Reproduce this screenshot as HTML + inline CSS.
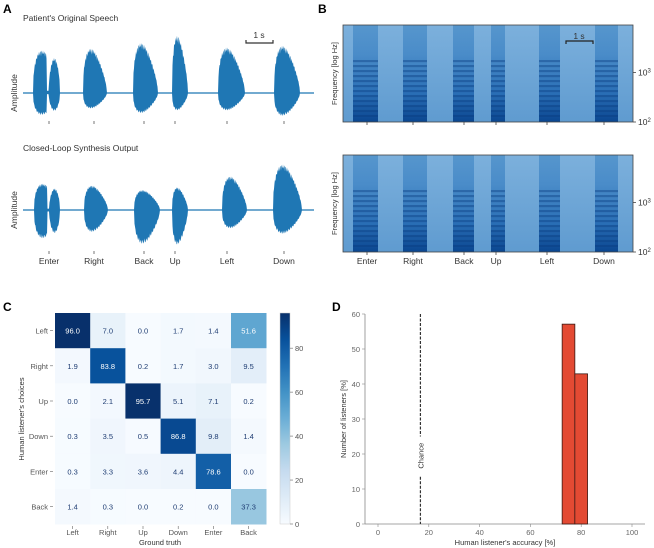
<!DOCTYPE html>
<html><head><meta charset="utf-8">
<style>
body{margin:0;background:#fff;}
svg{display:block;font-family:"Liberation Sans",sans-serif;}
</style></head>
<body>
<svg id="fig" width="654" height="548" viewBox="0 0 654 548">
<defs>
<linearGradient id="specword" x1="0" y1="1" x2="0" y2="0">
<stop offset="0" stop-color="#0a4690"/><stop offset="0.3" stop-color="#2a6fb6"/><stop offset="0.7" stop-color="#4a8cc9"/><stop offset="1" stop-color="#5696cd"/>
</linearGradient>
<linearGradient id="specbg" x1="0" y1="1" x2="0" y2="0">
<stop offset="0" stop-color="#5f9bd0"/><stop offset="1" stop-color="#7cb0dc"/>
</linearGradient>
<pattern id="harm" width="4" height="5" patternUnits="userSpaceOnUse"><rect width="4" height="2.2" fill="#083a7e" opacity="0.4"/></pattern>
<linearGradient id="cbar" x1="0" y1="1" x2="0" y2="0">
<stop offset="0" stop-color="#f7fbff"/><stop offset="0.125" stop-color="#deebf7"/><stop offset="0.25" stop-color="#c6dbef"/><stop offset="0.375" stop-color="#9ecae1"/><stop offset="0.5" stop-color="#6baed6"/><stop offset="0.625" stop-color="#4292c6"/><stop offset="0.75" stop-color="#2171b5"/><stop offset="0.875" stop-color="#08519c"/><stop offset="1" stop-color="#08306b"/>
</linearGradient>
</defs>
<g font-weight="bold" font-size="12">
<text x="3" y="13">A</text>
<text x="318" y="13">B</text>
<text x="3" y="311">C</text>
<text x="332" y="311">D</text>
</g>
<g id="panelA" font-size="8.5" fill="#333">
<text x="23" y="21">Patient's Original Speech</text>
<text x="23" y="151">Closed-Loop Synthesis Output</text>
<text transform="translate(17,93) rotate(-90)" text-anchor="middle">Amplitude</text>
<text transform="translate(17,210) rotate(-90)" text-anchor="middle">Amplitude</text>
<path d="M246 40V43H273V40" fill="none" stroke="#333" stroke-width="1.2"/>
<text x="259" y="38" text-anchor="middle">1 s</text>
</g>
<g id="panelB" font-size="8.5" fill="#333"></g>
<g id="panelC" font-size="7.5"></g>
<g id="panelD" font-size="7.5"></g>
</svg>
<script>
const NS="http://www.w3.org/2000/svg";
function mk(parent,tag,attrs,text){const e=document.createElementNS(NS,tag);for(const k in attrs)e.setAttribute(k,attrs[k]);if(text!==undefined)e.textContent=text;parent.appendChild(e);return e;}

// ---------- Panel A / B data ----------
const words=["Enter","Right","Back","Up","Left","Down"];
const wordTickA=[49,94,144,175,227,284];
const wordTickB=[367,413,464,496,547,604];
const origStart=[33,83,133,172,218,274];
const origEnd=[60,107,158,188,245,300];
const origUp=[47,49,55,63,50,52];
const origDown=[24,17,22,19,19,25];
const synStart=[34,84,134,172,222,273];
const synEnd=[60,108,160,188,247,302];
const synUp=[29,27,22,25,37,50];
const synDown=[31,24,37,38,20,26];
const specStart=[353,403,453,491,539,595];
const specEnd=[378,427,474,505,560,618];

const A=document.getElementById('panelA');
function sinp(v,p){return Math.pow(Math.max(0,Math.sin(v)),p);}
function wave(base,st,en,up,dn,name,phase){
  mk(A,'line',{x1:23,x2:314,y1:base,y2:base,stroke:'#1f77b4','stroke-width':1.3});
  for(let w=0;w<st.length;w++){
    let top=[],bot=[];
    const L=en[w]-st[w];
    for(let x=st[w];x<=en[w]+0.01;x+=0.5){
      const t=Math.min(1,(x-st[w])/L);
      let env=sinp(Math.PI*Math.pow(t,0.7),0.6)*(1-0.25*t);
      if(w===0){ if(t>0.5&&t<0.58) env=0.05; else if(t>=0.58) env=0.75*sinp(Math.PI*(t-0.58)/0.42,0.5); }
      const j=0.85+0.15*Math.abs(Math.sin(x*2.3+phase));
      top.push([x,base-up[w]*env*j]);
      bot.push([x,base+dn[w]*env*(0.85+0.15*Math.abs(Math.cos(x*1.7+phase)))]);
    }
    let d='M'+top.map(p=>p[0].toFixed(1)+' '+p[1].toFixed(1)).join('L')+'L'+bot.reverse().map(p=>p[0].toFixed(1)+' '+p[1].toFixed(1)).join('L')+'Z';
    const p=mk(A,'path',{d:d,fill:'#1f77b4'});
    
    
  }
}
wave(93,origStart,origEnd,origUp,origDown,'original-waveform',0);
wave(210,synStart,synEnd,synUp,synDown,'synthesis-waveform',1);
wordTickA.forEach((x,i)=>{
  mk(A,'line',{x1:x,x2:x,y1:121,y2:124,stroke:'#555','stroke-width':0.8});
  mk(A,'line',{x1:x,x2:x,y1:251,y2:254,stroke:'#555','stroke-width':0.8});
  const t=mk(A,'text',{x:x,y:264,'text-anchor':'middle'},words[i]);
  
  
});

// Panel B
const B=document.getElementById('panelB');
function spec(y0,h,name){
  const g=mk(B,'g',{});
  
  
  mk(g,'rect',{x:343,y:y0,width:290,height:h,fill:'url(#specbg)'});
  for(let w=0;w<specStart.length;w++){
    mk(g,'rect',{x:specStart[w],y:y0,width:specEnd[w]-specStart[w],height:h,fill:'url(#specword)'});
    mk(g,'rect',{x:specStart[w],y:y0+h*0.35,width:specEnd[w]-specStart[w],height:h*0.6,fill:'url(#harm)'});
  }
  mk(g,'rect',{x:343,y:y0,width:290,height:h,fill:'none',stroke:'#444','stroke-width':0.8});
  mk(g,'line',{x1:633,x2:636,y1:y0+h*0.49,y2:y0+h*0.49,stroke:'#444','stroke-width':0.8});
  mk(g,'line',{x1:633,x2:636,y1:y0+h,y2:y0+h,stroke:'#444','stroke-width':0.8});
  const a=mk(g,'text',{x:638,y:y0+h*0.49+3}); a.innerHTML='10<tspan dy="-3" font-size="6">3</tspan>';
  const b=mk(g,'text',{x:638,y:y0+h+3}); b.innerHTML='10<tspan dy="-3" font-size="6">2</tspan>';
  mk(g,'text',{transform:`translate(337,${y0+h/2}) rotate(-90)`,'text-anchor':'middle','font-size':'7.5'},'Frequency [log Hz]');
  wordTickB.forEach(x=>mk(g,'line',{x1:x,x2:x,y1:y0+h,y2:y0+h+3,stroke:'#444','stroke-width':0.8}));
}
spec(25,97,'original-spectrogram');
spec(155,97,'synthesis-spectrogram');
mk(B,'path',{d:'M566 44V41H593V44',fill:'none',stroke:'#222','stroke-width':1.2});
mk(B,'text',{x:579,y:39,'text-anchor':'middle'},'1 s');
wordTickB.forEach((x,i)=>{
  const t=mk(B,'text',{x:x,y:264,'text-anchor':'middle'},words[i]);
  
  
});

// ---------- Panel C ----------
const cmLabels=["Left","Right","Up","Down","Enter","Back"];
const cmRow0=[96.0,7.0,0.0,1.7,1.4,51.6];
const cmRow1=[1.9,83.8,0.2,1.7,3.0,9.5];
const cmRow2=[0.0,2.1,95.7,5.1,7.1,0.2];
const cmRow3=[0.3,3.5,0.5,86.8,9.8,1.4];
const cmRow4=[0.3,3.3,3.6,4.4,78.6,0.0];
const cmRow5=[1.4,0.3,0.0,0.2,0.0,37.3];
const cmRows=[cmRow0,cmRow1,cmRow2,cmRow3,cmRow4,cmRow5];
const cbTicks=[0,20,40,60,80];
const vmax=96;
const stops=["#f7fbff","#deebf7","#c6dbef","#9ecae1","#6baed6","#4292c6","#2171b5","#08519c","#08306b"];
function hex(c){return [1,3,5].map(i=>parseInt(c.substr(i,2),16));}
function blues(v){let t=Math.max(0,Math.min(1,v/vmax))*8;let i=Math.min(7,Math.floor(t));let f=t-i;const a=hex(stops[i]),b=hex(stops[i+1]);return 'rgb('+a.map((x,k)=>Math.round(x+(b[k]-x)*f)).join(',')+')';}
const C=document.getElementById('panelC');
const cx0=55,cy0=313,cs=35.2;
const cX=i=>cx0+i*cs, cY=j=>cy0+j*cs;
cmRows.forEach((row,j)=>row.forEach((v,i)=>{
  const r=mk(C,'rect',{x:cX(i),y:cY(j),width:cs+0.3,height:cs+0.3,fill:blues(v)});
  
  
  mk(C,'text',{x:cX(i)+cs/2,y:cY(j)+cs/2+3,'text-anchor':'middle',fill:v>50?'#fff':'#1f3d73'},v.toFixed(1));
}));
cmLabels.forEach((l,k)=>{
  mk(C,'text',{x:48,y:cY(k)+cs/2+3,'text-anchor':'end',fill:'#555'},l);
  mk(C,'line',{x1:50,x2:53,y1:cY(k)+cs/2,y2:cY(k)+cs/2,stroke:'#666','stroke-width':0.6});
  mk(C,'text',{x:cX(k)+cs/2,y:535,'text-anchor':'middle',fill:'#555'},l);
  mk(C,'line',{x1:cX(k)+cs/2,x2:cX(k)+cs/2,y1:526,y2:529,stroke:'#666','stroke-width':0.6});
});
mk(C,'text',{x:160,y:545,'text-anchor':'middle',fill:'#333'},"Ground truth");
mk(C,'text',{transform:'translate(24,419) rotate(-90)','text-anchor':'middle',fill:'#333'},"Human listener's choices");
const cb=mk(C,'rect',{x:280,y:313,width:10,height:211,fill:'url(#cbar)',stroke:'#ccc','stroke-width':0.5});


const cbY=v=>524-v/vmax*211;
cbTicks.forEach(v=>{
  mk(C,'line',{x1:290,x2:293,y1:cbY(v),y2:cbY(v),stroke:'#666','stroke-width':0.6});
  mk(C,'text',{x:295,y:cbY(v)+3,fill:'#555'},v);
});

// ---------- Panel D ----------
const histBinStart=[72.5,77.5];
const histBinEnd=[77.5,82.5];
const histValues=[57.1,42.9];
const chanceLevel=16.7;
const dxTicks=[0,20,40,60,80,100];
const dyTicks=[0,10,20,30,40,50,60];
const D=document.getElementById('panelD');
const dX=v=>378+v*2.54, dY=v=>524-v*3.5;
mk(D,'line',{x1:365,x2:645,y1:524,y2:524,stroke:'#888','stroke-width':0.8});
mk(D,'line',{x1:365,x2:365,y1:314,y2:524,stroke:'#888','stroke-width':0.8});
dxTicks.forEach(v=>{
  mk(D,'line',{x1:dX(v),x2:dX(v),y1:524,y2:527,stroke:'#888','stroke-width':0.6});
  mk(D,'text',{x:dX(v),y:535,'text-anchor':'middle',fill:'#666'},v);
});
dyTicks.forEach(v=>{
  mk(D,'line',{x1:362,x2:365,y1:dY(v),y2:dY(v),stroke:'#888','stroke-width':0.6});
  mk(D,'text',{x:360,y:dY(v)+3,'text-anchor':'end',fill:'#666'},v);
});
histValues.forEach((v,i)=>{
  const r=mk(D,'rect',{x:dX(histBinStart[i]),y:dY(v),width:dX(histBinEnd[i])-dX(histBinStart[i]),height:dY(0)-dY(v),fill:'#e34a33',stroke:'#3a1a14','stroke-width':0.8});
  
  
});
mk(D,'line',{x1:dX(chanceLevel),x2:dX(chanceLevel),y1:dY(60),y2:dY(25),stroke:'#333','stroke-width':1.2,'stroke-dasharray':'3,1.5'});
mk(D,'line',{x1:dX(chanceLevel),x2:dX(chanceLevel),y1:dY(13.5),y2:dY(0),stroke:'#333','stroke-width':1.2,'stroke-dasharray':'3,1.5'});
mk(D,'text',{transform:`translate(${dX(chanceLevel)+3},${dY(19.5)}) rotate(-90)`,'text-anchor':'middle',fill:'#333'},'Chance');
mk(D,'text',{x:505,y:545,'text-anchor':'middle',fill:'#333'},"Human listener's accuracy [%]");
mk(D,'text',{transform:'translate(346,419) rotate(-90)','text-anchor':'middle',fill:'#333'},"Number of listeners [%]");
</script>
</body></html>
